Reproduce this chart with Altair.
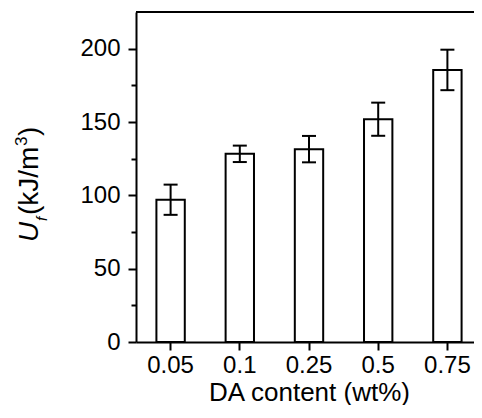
import altair as alt
import pandas as pd

categories = ["0.05", "0.1", "0.25", "0.5", "0.75"]
values = [97.0, 128.3, 131.5, 151.9, 185.5]
errors = [10.3, 5.6, 9.0, 11.3, 13.8]
y_ticks = [0, 25, 50, 75, 100, 125, 150, 175, 200]

df = pd.DataFrame({
    "cat": categories,
    "val": values,
    "lo": [v - e for v, e in zip(values, errors)],
    "hi": [v + e for v, e in zip(values, errors)],
})
one = pd.DataFrame({"a": [0]})

FONT = "Liberation Sans"

xenc = alt.X(
    "cat:N",
    sort=categories,
    scale=alt.Scale(paddingInner=0.59, paddingOuter=0.295),
    axis=alt.Axis(
        title="DA content (wt%)",
        labelAngle=0,
        labelFont=FONT,
        labelFontSize=24,
        labelColor="black",
        labelPadding=3,
        titleFont=FONT,
        titleFontSize=26,
        titleFontWeight="normal",
        titleColor="black",
        titlePadding=2,
        domainColor="black",
        domainWidth=2,
        tickColor="black",
        tickWidth=2,
        tickSize=8,
    ),
)

yenc = alt.Y(
    "val:Q",
    scale=alt.Scale(domain=[0, 225], nice=False),
    axis=alt.Axis(
        title=None,
        values=y_ticks,
        labelExpr="datum.value % 50 === 0 ? datum.label : ''",
        labelFont=FONT,
        labelFontSize=24,
        labelColor="black",
        labelPadding=8,
        domainColor="black",
        domainWidth=2,
        tickColor="black",
        tickWidth=2,
        tickSize={"condition": {"test": "datum.value % 50 === 0", "value": 8}, "value": 5},
        grid=False,
    ),
)

bars = alt.Chart(df).mark_bar(fill="white", stroke="black", strokeWidth=2).encode(x=xenc, y=yenc)

err = alt.Chart(df).mark_rule(color="black", strokeWidth=2).encode(
    x=alt.X("cat:N", sort=categories),
    y=alt.Y("lo:Q", title=None),
    y2="hi:Q",
)
cap_hi = alt.Chart(df).mark_tick(color="black", size=14, thickness=2, opacity=1).encode(
    x=alt.X("cat:N", sort=categories), y=alt.Y("hi:Q", title=None)
)
cap_lo = alt.Chart(df).mark_tick(color="black", size=14, thickness=2, opacity=1).encode(
    x=alt.X("cat:N", sort=categories), y=alt.Y("lo:Q", title=None)
)

top_rule = alt.Chart(one).mark_rule(color="black", strokeWidth=2).encode(y=alt.value(0))

def ttxt(text, size, x, y, italic=False):
    return alt.Chart(one).mark_text(
        text=text, font=FONT, fontSize=size, angle=270, align="left",
        baseline="alphabetic", color="black",
        fontStyle="italic" if italic else "normal",
    ).encode(x=alt.value(x), y=alt.value(y))

ytitle = [
    ttxt("U", 28, -98, 230, italic=True),
    ttxt("f", 15, -89, 209, italic=True),
    ttxt("(kJ/m", 28, -98, 203),
    ttxt("3", 17, -109, 134),
    ttxt(")", 28, -98, 124),
]

chart = alt.layer(bars, err, cap_hi, cap_lo, top_rule, *ytitle).properties(
    width=346,
    height=330,
    autosize="none",
    padding={"left": 128, "top": 4, "right": -8, "bottom": 63},
).configure_view(stroke=None)

chart.save("out.html", embed_options={"renderer": "svg", "actions": False})
